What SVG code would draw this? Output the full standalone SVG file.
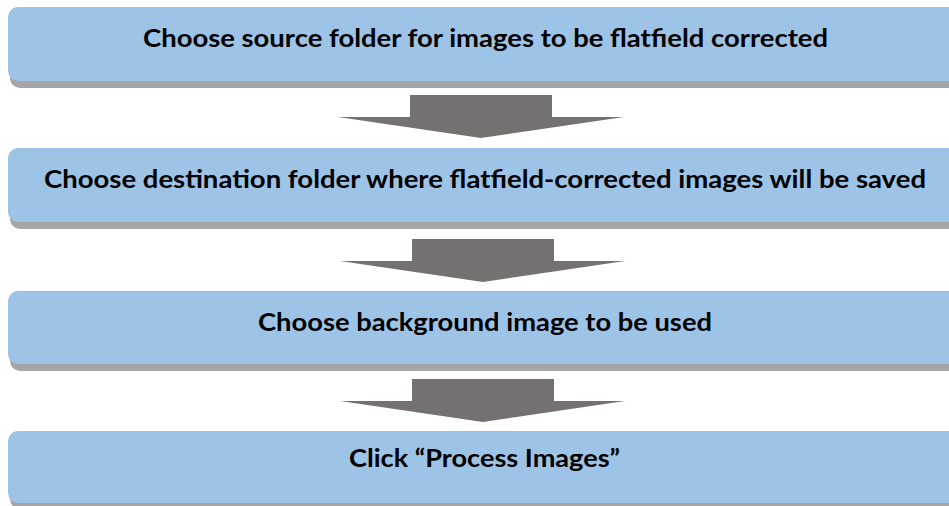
<svg xmlns="http://www.w3.org/2000/svg" width="949" height="506" viewBox="0 0 949 506">
  <style>
    .shadow { fill: #a6a6a6; }
    .box { fill: #9dc3e6; }
    .label { font-family: "Lato", "Liberation Sans", sans-serif; font-weight: bold; font-size: 25px; fill: #000000; text-anchor: start; }
    .arrow { fill: #767171; }
  </style>
  <rect width="949" height="506" fill="#ffffff"/>
  <g id="step1">
    <rect class="shadow" x="10" y="14" width="960" height="74" rx="10"/>
    <rect class="box" x="8" y="7" width="960" height="74" rx="10"/>
    <text class="label" x="143" y="47" textLength="685" lengthAdjust="spacingAndGlyphs">Choose source folder for images to be flatfield corrected</text>
  </g>
  <g id="step2">
    <rect class="shadow" x="10" y="155" width="960" height="74" rx="10"/>
    <rect class="box" x="8" y="148" width="960" height="74" rx="10"/>
    <text class="label" x="44" y="188" textLength="882" lengthAdjust="spacingAndGlyphs">Choose destination folder where flatfield-corrected images will be saved</text>
  </g>
  <g id="step3">
    <rect class="shadow" x="10" y="298" width="960" height="73" rx="10"/>
    <rect class="box" x="8" y="291" width="960" height="73" rx="10"/>
    <text class="label" x="258" y="331" textLength="454" lengthAdjust="spacingAndGlyphs">Choose background image to be used</text>
  </g>
  <g id="step4">
    <rect class="shadow" x="10" y="437" width="960" height="72" rx="10"/>
    <rect class="box" x="8" y="431" width="960" height="72" rx="10"/>
    <text class="label" x="349" y="467" textLength="271" lengthAdjust="spacingAndGlyphs">Click “Process Images”</text>
  </g>
  <g id="connectors">
    <polygon class="arrow" points="410,95 552,95 552,117 624,117 481,138 338,117 410,117"/>
    <polygon class="arrow" points="412,239 554,239 554,261 625,261 483,282 340,261 412,261"/>
    <polygon class="arrow" points="412,379 554,379 554,401 625,401 483,422 340,401 412,401"/>
  </g>
</svg>
